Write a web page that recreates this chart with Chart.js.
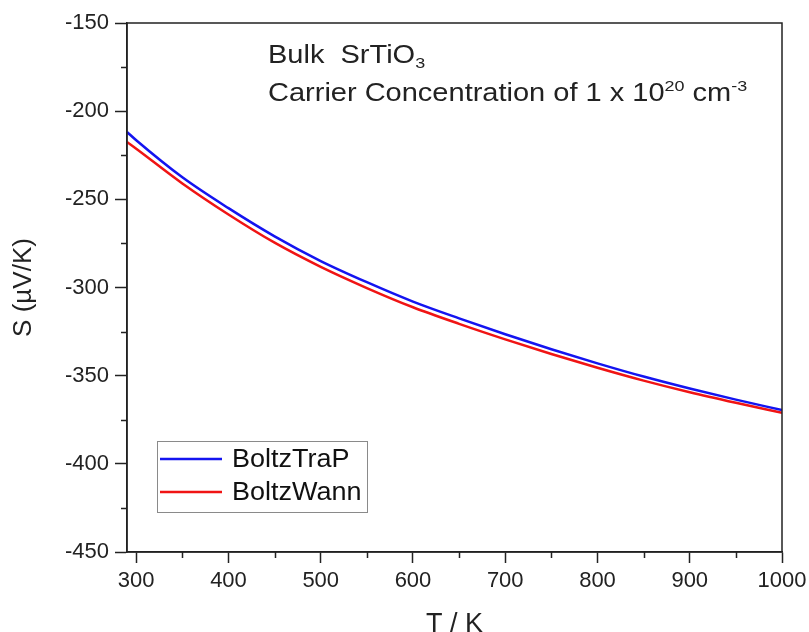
<!DOCTYPE html>
<html>
<head>
<meta charset="utf-8">
<script src="https://cdn.jsdelivr.net/npm/chart.js@4/dist/chart.umd.min.js"></script>
<style>
  html, body { margin: 0; padding: 0; background: #ffffff; }
  #wrap { width: 809px; height: 632px; position: relative; }
</style>
</head>
<body>
<div id="wrap"><canvas id="c" width="809" height="632"></canvas></div>
<script>
// ---- Data ----
const temperatures = [290, 300, 350, 400, 450, 500, 550, 600, 650, 700, 750, 800, 850, 900, 950, 1000];
const boltzTraP   = [-211.8, -216.5, -237.5, -255.0, -271.0, -285.0, -297.0, -308.0, -317.5, -326.5, -335.0, -343.0, -350.5, -357.3, -363.6, -369.5];
const boltzWann   = [-217.5, -221.3, -241.0, -258.6, -274.6, -288.3, -300.3, -311.2, -320.6, -329.4, -337.7, -345.5, -352.8, -359.4, -365.4, -371.1];
const seriesLabels = ['BoltzTraP', 'BoltzWann'];
const xTickValues = [300, 400, 500, 600, 700, 800, 900, 1000];
const xMinorTicks = [350, 450, 550, 650, 750, 850, 950];
const yTickValues = [-450, -400, -350, -300, -250, -200, -150];
const yMinorTicks = [-425, -375, -325, -275, -225, -175];
const xTitle = 'T / K';
const yTitle = 'S (\u00B5V/K)';

const FONT = "'Liberation Sans', Arial, sans-serif";
const INK = '#222222';

const toPoints = (xs, ys) => xs.map((x, i) => ({ x: x, y: ys[i] }));

// Frame, minor ticks, annotation, legend
const decorPlugin = {
  id: 'decor',
  afterDraw(chart) {
    const ctx = chart.ctx;
    const a = chart.chartArea;
    const xs = chart.scales.x, ys = chart.scales.y;
    ctx.save();
    // frame
    ctx.strokeStyle = INK;
    ctx.lineWidth = 1.5;
    ctx.strokeRect(a.left, a.top, a.right - a.left, a.bottom - a.top);
    // minor ticks
    ctx.lineWidth = 1.5;
    ctx.beginPath();
    xMinorTicks.forEach(v => {
      const px = Math.round(xs.getPixelForValue(v)) + 0.5;
      ctx.moveTo(px, a.bottom); ctx.lineTo(px, a.bottom + 6);
    });
    yMinorTicks.forEach(v => {
      const py = Math.round(ys.getPixelForValue(v)) + 0.5;
      ctx.moveTo(a.left, py); ctx.lineTo(a.left - 6, py);
    });
    ctx.stroke();

    // annotation text
    const sx = 1.16;
    const fs = 25;
    const runs1 = [['Bulk  SrTiO', 0, 1], ['3', 5, 0.62]];
    const runs2 = [['Carrier Concentration of 1 x 10', 0, 1], ['20', -10, 0.62], [' cm', 0, 1], ['-3', -10, 0.62]];
    const drawRuns = (runs, x0, y0) => {
      ctx.save();
      ctx.translate(x0, y0);
      ctx.scale(sx, 1);
      let x = 0;
      ctx.fillStyle = INK;
      ctx.textBaseline = 'alphabetic';
      ctx.textAlign = 'left';
      runs.forEach(([t, dy, k]) => {
        ctx.font = (fs * k) + 'px ' + FONT;
        ctx.fillText(t, x, dy);
        x += ctx.measureText(t).width;
      });
      ctx.restore();
    };
    drawRuns(runs1, a.left + 141, a.top + 40);
    drawRuns(runs2, a.left + 141, a.top + 78);

    // legend
    const lx = a.left + 30, ly = a.top + 418, lw = 210, lh = 71;
    ctx.strokeStyle = '#8a8a8a';
    ctx.lineWidth = 1;
    ctx.strokeRect(lx + 0.5, ly + 0.5, lw, lh);
    chart.data.datasets.forEach((ds, i) => {
      const yy = ly + 18 + i * 33;
      ctx.strokeStyle = ds.borderColor;
      ctx.lineWidth = 2.5;
      ctx.beginPath();
      ctx.moveTo(lx + 3, yy); ctx.lineTo(lx + 65, yy);
      ctx.stroke();
      ctx.save();
      ctx.translate(lx + 75, yy);
      ctx.scale(1.08, 1);
      ctx.fillStyle = '#111';
      ctx.font = '25px ' + FONT;
      ctx.textBaseline = 'middle';
      ctx.fillText(ds.label, 0, 1);
      ctx.restore();
    });
    ctx.restore();
  }
};

new Chart(document.getElementById('c'), {
  type: 'line',
  data: {
    datasets: [
      {
        label: seriesLabels[0],
        data: toPoints(temperatures, boltzTraP),
        borderColor: '#1414f0',
        borderWidth: 2.5,
        pointRadius: 0,
        cubicInterpolationMode: 'monotone',
        fill: false
      },
      {
        label: seriesLabels[1],
        data: toPoints(temperatures, boltzWann),
        borderColor: '#f01414',
        borderWidth: 2.5,
        pointRadius: 0,
        cubicInterpolationMode: 'monotone',
        fill: false
      }
    ]
  },
  options: {
    responsive: false,
    animation: false,
    devicePixelRatio: 1,
    layout: { padding: { left: 0, top: 23, right: 27, bottom: 0 } },
    plugins: {
      legend: { display: false },
      tooltip: { enabled: false }
    },
    scales: {
      x: {
        type: 'linear',
        min: 290,
        max: 1000,
        afterBuildTicks: s => { s.ticks = xTickValues.map(v => ({ value: v })); },
        afterFit: s => { s.height = 80; s.paddingLeft = 0; s.paddingRight = 0; },
        grid: { drawOnChartArea: false, drawTicks: true, tickLength: 11, tickColor: INK, tickWidth: 1.5 },
        border: { display: true, color: INK, width: 1.5 },
        ticks: { color: INK, font: { family: FONT, size: 22 }, padding: 5, maxRotation: 0, callback: v => String(v) },
        title: { display: true, text: xTitle, color: INK, font: { family: FONT, size: 27 }, padding: { top: 0, bottom: -9 } }
      },
      y: {
        type: 'linear',
        min: -450,
        max: -150,
        afterBuildTicks: s => { s.ticks = yTickValues.map(v => ({ value: v })); },
        afterFit: s => { s.width = 127; s.paddingTop = 0; s.paddingBottom = 0; },
        grid: { drawOnChartArea: false, drawTicks: true, tickLength: 12, tickColor: INK, tickWidth: 1.5 },
        border: { display: true, color: INK, width: 1.5 },
        ticks: { color: INK, font: { family: FONT, size: 22 }, padding: 6, callback: v => String(v) },
        title: { display: true, text: yTitle, color: INK, font: { family: FONT, size: 26 }, padding: { top: 8, bottom: 0 } }
      }
    }
  },
  plugins: [decorPlugin]
});
</script>
</body>
</html>
